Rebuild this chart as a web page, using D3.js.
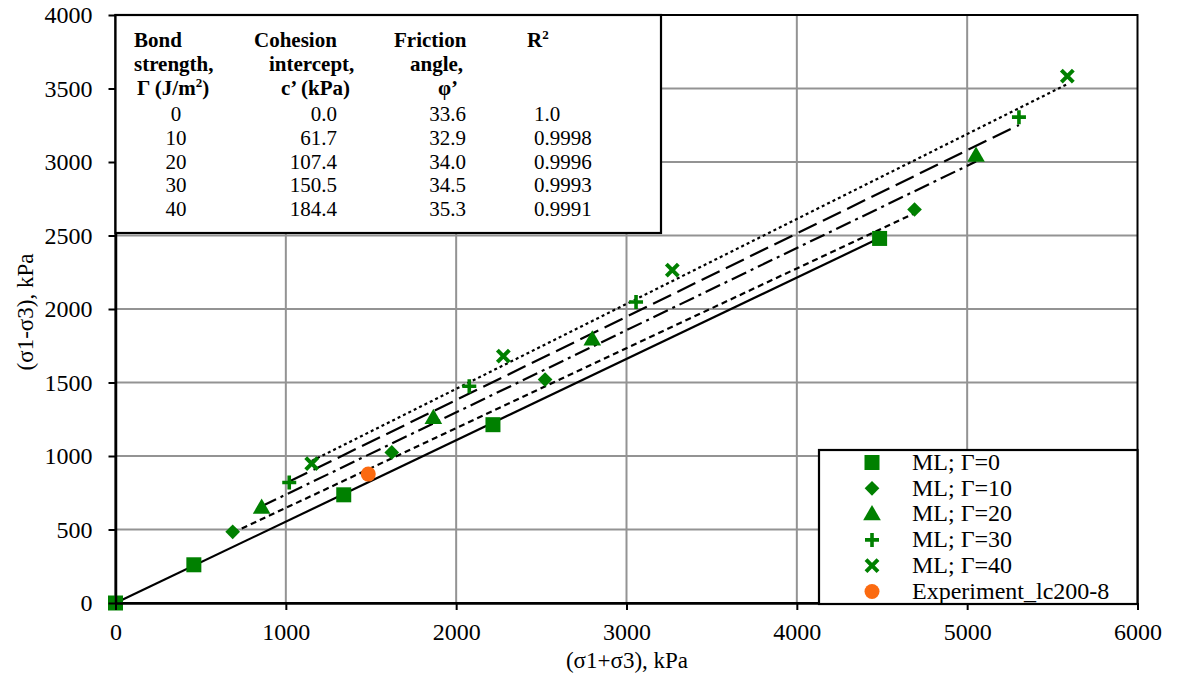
<!DOCTYPE html>
<html>
<head>
<meta charset="utf-8">
<script src="https://cdn.jsdelivr.net/npm/d3@7"></script>
<style>
  body { margin: 0; background: #fff; }
  svg { display: block; }
  svg text { font-family: "Liberation Serif", "Times New Roman", Times, serif; fill: #000; }
</style>
</head>
<body>
<svg id="chart" width="1177" height="678"></svg>
<script>
// ---- data: (σ1+σ3) and (σ1-σ3) in kPa for each bond strength ----
const seriesNames = ["ML; Γ=0", "ML; Γ=10", "ML; Γ=20", "ML; Γ=30", "ML; Γ=40"];
const sum0  = [0, 460, 1340, 2216, 4486];
const dev0  = [0, 260, 736, 1213, 2480];
const sum10 = [688, 1622, 2522, 4691];
const dev10 = [484, 1024, 1520, 2677];
const sum20 = [858, 1866, 2799, 5052];
const dev20 = [649, 1259, 1793, 3043];
const sum30 = [1020, 2077, 3056, 5304];
const dev30 = [820, 1475, 2048, 3305];
const sum40 = [1152, 2277, 3269, 5588];
const dev40 = [948, 1679, 2264, 3584];
const expName = "Experiment_lc200-8";
const expSum = [1484];
const expDev = [877];

// ---- strength parameters (table) ----
const bondStrength = [0, 10, 20, 30, 40];
const cohesion = [0.0, 61.7, 107.4, 150.5, 184.4];
const frictionAngle = [33.6, 32.9, 34.0, 34.5, 35.3];
const rSquared = ["1.0", "0.9998", "0.9996", "0.9993", "0.9991"];

// ---- axis ticks ----
const xTicks = [0, 1000, 2000, 3000, 4000, 5000, 6000];
const yTicks = [0, 500, 1000, 1500, 2000, 2500, 3000, 3500, 4000];

const sums = [sum0, sum10, sum20, sum30, sum40];
const devs = [dev0, dev10, dev20, dev30, dev40];

const serif = '"Liberation Serif", "Times New Roman", Times, serif';
const svg = d3.select("#chart");
const W = 1177, H = 678;
svg.append("rect").attr("width", W).attr("height", H).attr("fill", "#fff");

const plotL = 115.5, plotR = 1137.5, plotT = 15, plotB = 603;
const x = d3.scaleLinear().domain([0, 6000]).range([plotL, plotR]);
const y = d3.scaleLinear().domain([0, 4000]).range([plotB, plotT]);

const green = "#008000";
const orange = "#fb6a10";

// grid
const grid = svg.append("g");
grid.selectAll(".gx").data(xTicks.slice(1, -1)).join("line")
  .attr("x1", d => x(d)).attr("x2", d => x(d))
  .attr("y1", plotT).attr("y2", plotB)
  .attr("stroke", "#939393").attr("stroke-width", 2);
grid.selectAll(".gy").data(yTicks.slice(1, -1)).join("line")
  .attr("x1", plotL).attr("x2", plotR)
  .attr("y1", d => y(d)).attr("y2", d => y(d))
  .attr("stroke", "#939393").attr("stroke-width", 2);

// plot frame (top and right)
svg.append("rect")
  .attr("x", plotL).attr("y", plotT)
  .attr("width", plotR - plotL).attr("height", plotB - plotT)
  .attr("fill", "none").attr("stroke", "#000").attr("stroke-width", 2);

// Mohr-Coulomb trend lines: (σ1-σ3) = 2c'cosφ' + (σ1+σ3) sinφ'
const dashes = [null, "6,4", "16,5,3,5", "20,7", "3,3"];
const lineGen = d3.line().x(d => x(d[0])).y(d => y(d[1]));
sums.forEach((s, i) => {
  const phi = frictionAngle[i] * Math.PI / 180;
  const c = cohesion[i];
  const f = v => 2 * c * Math.cos(phi) + v * Math.sin(phi);
  const x0 = d3.min(s), x1 = d3.max(s);
  svg.append("path")
    .attr("d", lineGen([[x0, f(x0)], [x1, f(x1)]]))
    .attr("fill", "none").attr("stroke", "#000")
    .attr("stroke-width", 2.2)
    .attr("stroke-dasharray", dashes[i]);
});

// marker drawing
function drawMarker(g, kind, cx, cy) {
  if (kind === 0) {
    g.append("rect").attr("x", cx - 7.5).attr("y", cy - 7.5)
      .attr("width", 15).attr("height", 15).attr("fill", green);
  } else if (kind === 1) {
    g.append("rect").attr("x", -5.2).attr("y", -5.2).attr("width", 10.4).attr("height", 10.4)
      .attr("fill", green)
      .attr("transform", `translate(${cx},${cy}) rotate(45)`);
  } else if (kind === 2) {
    g.append("path").attr("d", d3.symbol(d3.symbolTriangle, 135)())
      .attr("transform", `translate(${cx},${cy + 1})`).attr("fill", green);
  } else if (kind === 3) {
    g.append("path").attr("d", `M${cx - 7},${cy}H${cx + 7}M${cx},${cy - 7}V${cy + 7}`)
      .attr("stroke", green).attr("stroke-width", 3.6).attr("fill", "none");
  } else if (kind === 4) {
    g.append("path").attr("d", `M${cx - 6},${cy - 6}L${cx + 6},${cy + 6}M${cx - 6},${cy + 6}L${cx + 6},${cy - 6}`)
      .attr("stroke", green).attr("stroke-width", 4).attr("fill", "none");
  } else {
    g.append("circle").attr("cx", cx).attr("cy", cy).attr("r", 7.5).attr("fill", orange);
  }
}

const marks = svg.append("g");
sums.forEach((s, i) => {
  s.forEach((v, j) => drawMarker(marks, i, x(v), y(devs[i][j])));
});
expSum.forEach((v, j) => drawMarker(marks, 5, x(v), y(expDev[j])));

// axes
const fmt = d3.format("d");
const xAxis = d3.axisBottom(x).tickValues(xTicks).tickFormat(fmt)
  .tickSize(7).tickSizeOuter(0).tickPadding(13);
const yAxis = d3.axisLeft(y).tickValues(yTicks).tickFormat(fmt)
  .tickSize(7).tickSizeOuter(0).tickPadding(16);
const gx = svg.append("g").attr("transform", `translate(0,${plotB})`).call(xAxis);
const gy = svg.append("g").attr("transform", `translate(${plotL},0)`).call(yAxis);
[gx, gy].forEach(g => {
  g.attr("font-family", serif).attr("font-size", 24);
  g.select(".domain").attr("stroke", "#000").attr("stroke-width", 2.5);
  g.selectAll(".tick line").attr("stroke", "#000").attr("stroke-width", 2);
  g.selectAll(".tick text").attr("fill", "#000")
    .style("font-family", serif).style("font-size", "24px");
});

// axis titles
svg.append("text").attr("x", 627).attr("y", 668)
  .attr("text-anchor", "middle").style("font-size", "23px")
  .text("(σ1+σ3), kPa");
svg.append("text")
  .attr("transform", "translate(33,312) rotate(-90)")
  .attr("text-anchor", "middle").style("font-size", "23px")
  .text("(σ1-σ3), kPa");

// parameter table
const tbl = svg.append("g");
tbl.append("rect").attr("x", plotL).attr("y", plotT).attr("width", 661 - plotL).attr("height", 233 - plotT)
  .attr("fill", "#fff").attr("stroke", "#000").attr("stroke-width", 2.2);
const headBase = [47, 71, 95];
const head = [
  { x: 134, lines: ["Bond", "strength,", null] },
  { x: 254, lines: ["Cohesion", "intercept,", "c’ (kPa)"] },
  { x: 394, lines: ["Friction", "angle,", "φ’"] },
];
const headOffsets = [[0, 0, 0], [0, 15, 27], [0, 16, 44]];
head.forEach((h, k) => {
  h.lines.forEach((t, r) => {
    if (!t) return;
    tbl.append("text").attr("x", h.x + headOffsets[k][r]).attr("y", headBase[r])
      .style("font-size", "21px").style("font-weight", "bold").text(t);
  });
});
// Γ (J/m²) with superscript
const gHead = tbl.append("text").attr("x", 137).attr("y", headBase[2])
  .style("font-size", "21px").style("font-weight", "bold");
gHead.append("tspan").text("Γ (J/m");
gHead.append("tspan").attr("dy", -8).style("font-size", "13px").text("2");
gHead.append("tspan").attr("dy", 8).text(")");
// R²
const rHead = tbl.append("text").attr("x", 527).attr("y", headBase[0])
  .style("font-size", "21px").style("font-weight", "bold");
rHead.append("tspan").text("R");
rHead.append("tspan").attr("dy", -8).style("font-size", "13px").text("2");

const rowBase = d3.range(bondStrength.length).map(i => 121 + i * 23.8);
bondStrength.forEach((b, i) => {
  tbl.append("text").attr("x", 176).attr("y", rowBase[i]).attr("text-anchor", "middle")
    .style("font-size", "21px").text(b);
  tbl.append("text").attr("x", 337).attr("y", rowBase[i]).attr("text-anchor", "end")
    .style("font-size", "21px").text(cohesion[i].toFixed(1));
  tbl.append("text").attr("x", 466).attr("y", rowBase[i]).attr("text-anchor", "end")
    .style("font-size", "21px").text(frictionAngle[i].toFixed(1));
  tbl.append("text").attr("x", 534).attr("y", rowBase[i]).attr("text-anchor", "start")
    .style("font-size", "21px").text(rSquared[i]);
});

// legend
const leg = svg.append("g");
leg.append("rect").attr("x", 819).attr("y", 450).attr("width", plotR - 819).attr("height", 154)
  .attr("fill", "#fff").attr("stroke", "#000").attr("stroke-width", 2.2);
const legNames = seriesNames.concat([expName]);
legNames.forEach((n, i) => {
  const cy = 462.5 + i * 25.8;
  drawMarker(leg, i, 872, cy);
  leg.append("text").attr("x", 912).attr("y", cy).attr("dy", "0.3em")
    .style("font-size", "24px").text(n);
});
</script>
</body>
</html>
